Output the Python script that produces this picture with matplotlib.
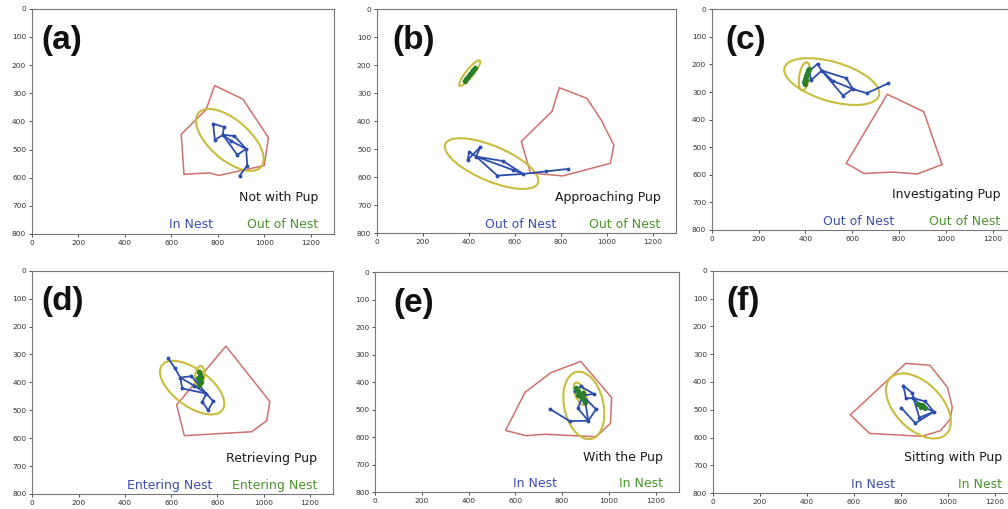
import numpy as np
import matplotlib.pyplot as plt
from matplotlib.patches import Ellipse, Polygon

# mouse keypoints: nose, ear_l, ear_r, neck, side_l, side_r, center, tail_base, tail_mid, tail_end
edges = [(0, 1), (0, 2), (1, 3), (2, 3), (3, 4), (3, 5), (4, 7), (5, 7),
         (3, 6), (6, 7), (7, 8), (8, 9)]

tags = ['(a)', '(b)', '(c)', '(d)', '(e)', '(f)']
behaviours = ['Not with Pup', 'Approaching Pup', 'Investigating Pup',
              'Retrieving Pup', 'With the Pup', 'Sitting with Pup']
mouse_state = ['In Nest', 'Out of Nest', 'Out of Nest', 'Entering Nest', 'In Nest', 'In Nest']
pup_state = ['Out of Nest', 'Out of Nest', 'Out of Nest', 'Entering Nest', 'In Nest', 'In Nest']

# nest outlines (pixel coords of the video frame)
nest_a = [(787, 273), (908, 321), (1018, 458), (1000, 557), (900, 575), (805, 592),
          (765, 583), (655, 588), (643, 446), (750, 358)]
nest_b = [(793, 280), (913, 318), (975, 395), (1030, 485), (1015, 550), (808, 595),
          (668, 585), (628, 472), (762, 364)]
nest_c = [(750, 308), (906, 371), (984, 563), (878, 597), (775, 590), (650, 595), (575, 558)]
nest_d = [(837, 270), (1027, 469), (1013, 538), (948, 577), (657, 591), (624, 481)]
nest_e = [(880, 324), (1012, 456), (1007, 549), (946, 598), (727, 589), (645, 594),
          (558, 575), (642, 436), (752, 365)]
nest_f = [(822, 333), (925, 340), (1000, 420), (1020, 490), (1012, 533), (970, 575),
          (890, 595), (668, 585), (586, 518)]

mouse_a = [(780, 408), (826, 420), (788, 466), (822, 448), (872, 452), (884, 519),
           (858, 470), (922, 498), (927, 557), (894, 593)]
mouse_b = [(395, 538), (402, 509), (450, 492), (432, 526), (549, 542), (524, 594),
           (593, 574), (636, 588), (735, 579), (831, 570)]
mouse_c = [(415, 225), (452, 198), (426, 256), (470, 222), (575, 250), (561, 313),
           (518, 260), (603, 289), (663, 304), (755, 268)]
mouse_d = [(760, 500), (782, 468), (735, 470), (752, 440), (688, 378), (648, 422),
           (700, 412), (640, 383), (617, 350), (588, 314)]
mouse_e = [(880, 415), (857, 432), (935, 442), (888, 448), (945, 498), (868, 495),
           (900, 475), (912, 540), (832, 541), (750, 498)]
mouse_f = [(812, 413), (850, 440), (823, 459), (855, 458), (905, 470), (880, 528),
           (885, 485), (942, 507), (863, 548), (802, 492)]

pup_a = []
pup_b = [(382, 256), (390, 248), (397, 240), (405, 232), (412, 224), (420, 216), (428, 208)]
pup_c = [(398, 272), (396, 262), (400, 252), (403, 242), (406, 233), (410, 224), (414, 216), (402, 258)]
pup_d = [(722, 362), (726, 372), (728, 382), (725, 392), (730, 400), (722, 408), (718, 385)]
pup_e = [(860, 420), (866, 430), (872, 440), (878, 448), (884, 455), (890, 462), (896, 470),
         (870, 445), (888, 440)]
pup_f = [(874, 478), (882, 481), (890, 484), (897, 488), (903, 492), (886, 490)]

# fitted ellipses: cx, cy, width, height, angle
mouse_ell = [(852, 466, 332, 152, 32.6), (499, 551, 426, 128, 18.4), (513, 262, 416, 144, 13.3),
             (691, 419, 308, 140, 28.7), (893, 484, 252, 166, 72.5), (876, 486, 314, 180, 35.6)]
pup_ell = [None, (404, 228, 126, 30, -45), (396, 243, 104, 44, -78),
           (723, 380, 78, 40, -80), (878, 442, 90, 42, 62), None]

nests = [nest_a, nest_b, nest_c, nest_d, nest_e, nest_f]
mice = [mouse_a, mouse_b, mouse_c, mouse_d, mouse_e, mouse_f]
pups = [pup_a, pup_b, pup_c, pup_d, pup_e, pup_f]

# axes boxes in pixels: left, top, right, bottom
boxes = [(31.7, 8.7, 334, 234), (376.7, 9.3, 676, 233.3), (711.7, 9.3, 1016, 230),
         (32.3, 270.7, 333, 494), (375, 272.3, 679, 492.3), (712.7, 270.7, 1018, 493.3)]
tag_x = [43, 66, 57, 41, 78, 60]

W, H = 1008, 509
fig = plt.figure(figsize=(W / 100, H / 100), dpi=100)

RED = '#d0706c'
YEL = '#c8bd3c'
BLUE = '#2c4dac'
GREEN = '#2a7f2a'

for i in range(6):
    l, t, r, b = boxes[i]
    ax = fig.add_axes([l / W, 1 - b / H, (r - l) / W, (b - t) / H])
    ax.set_xlim(0, 1300)
    ax.set_ylim(800, 0)
    ax.set_xticks(range(0, 1201, 200))
    ax.set_yticks(range(0, 801, 100))
    ax.tick_params(labelsize=5.3, length=2.5, width=0.6, pad=1.5, colors='#333333')
    for s in ax.spines.values():
        s.set_color('#777777')
        s.set_linewidth(0.8)

    ax.add_patch(Polygon(nests[i], closed=True, fill=False, ec=RED, lw=1.1))

    cx, cy, w, h, ang = mouse_ell[i]
    ax.add_patch(Ellipse((cx, cy), w, h, angle=ang, fill=False, ec=YEL, lw=1.5))

    pts = np.array(mice[i])
    for j, k in edges:
        ax.plot(pts[[j, k], 0], pts[[j, k], 1], color=BLUE, lw=1.3, solid_capstyle='round')
    ax.plot(pts[:, 0], pts[:, 1], 'o', color=BLUE, ms=2.8, mew=0)

    if pups[i]:
        pp = np.array(pups[i])
        ax.plot(pp[:, 0], pp[:, 1], 'o-', color=GREEN, ms=3.8, lw=2.4, mew=0)
    if pup_ell[i] is not None:
        cx, cy, w, h, ang = pup_ell[i]
        ax.add_patch(Ellipse((cx, cy), w, h, angle=ang, fill=False, ec=YEL, lw=1.5))

    ax.text(tag_x[i], 112, tags[i], fontsize=24, fontweight='bold',
            family='Liberation Sans', va='center', ha='left', color='#111111')
    ax.text(1232, 672, behaviours[i], fontsize=9, ha='right', va='center', color='#1a1a1a')
    ax.text(778, 768, mouse_state[i], fontsize=9, ha='right', va='center', color='#3b4fb4')
    ax.text(1232, 768, pup_state[i], fontsize=9, ha='right', va='center', color='#4a942c')

fig.savefig('out.png', dpi=100)
